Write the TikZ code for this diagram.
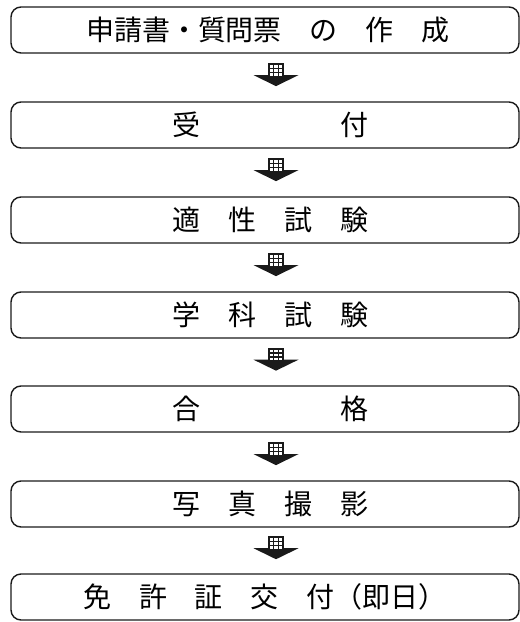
\documentclass[tikz,border=0pt]{standalone}
\usepackage{fontspec}
\usetikzlibrary{calc}
\newfontfamily\cjk{Noto Sans CJK JP}
\definecolor{ink}{HTML}{1A1A1A}
\begin{document}
\begin{tikzpicture}[x=1pt,y=-1pt,
  box/.style={draw=ink, line width=1.4pt, rounded corners=10pt,
    minimum width=508pt, minimum height=46pt, inner sep=0pt},
  lbl/.style={font=\cjk\fontsize{28}{30}\selectfont, inner sep=0pt, text=black},
  gridarrow/.pic={
    \fill[ink] (-22.5,0) -- (22.5,0) -- (0,11) -- cycle;
    \filldraw[fill=white, draw=ink, line width=1.7pt] (-7,-11) rectangle (7,1.5);
    \draw[ink, line width=1.4pt] (-2.3,-11) -- (-2.3,1.5) (2.3,-11) -- (2.3,1.5)
      (-7,-6.8) -- (7,-6.8) (-7,-2.6) -- (7,-2.6);
  }]
\useasboundingbox (0,0) rectangle (520,622);
\node[box] (b1) at (265,30) {};
\node[box] (b2) at (265,125) {};
\node[box] (b3) at (265,220) {};
\node[box] (b4) at (265,315) {};
\node[box] (b5) at (265,409) {};
\node[box] (b6) at (265,504) {};
\node[box] (b7) at (265,597) {};
\node[lbl] (t1) at (268,30) {申請書・質問票　の　作　成};
\node[lbl] (t2) at (270.5,125) {受　　　　　付};
\node[lbl] (t3) at (270,220) {適　性　試　験};
\node[lbl] (t4) at (270,315) {学　科　試　験};
\node[lbl] (t5) at (270.5,409) {合　　　　　格};
\node[lbl] (t6) at (270,504) {写　真　撮　影};
\node[lbl] (t7) at (265,597) {免　許　証　交　付（即日）};
\foreach \a/\b in {b1/b2,b2/b3,b3/b4,b4/b5,b5/b6,b6/b7}
  \pic at ($(\a.south)!0.45!(\b.north)+(11,0)$) {gridarrow};
\end{tikzpicture}
\end{document}
